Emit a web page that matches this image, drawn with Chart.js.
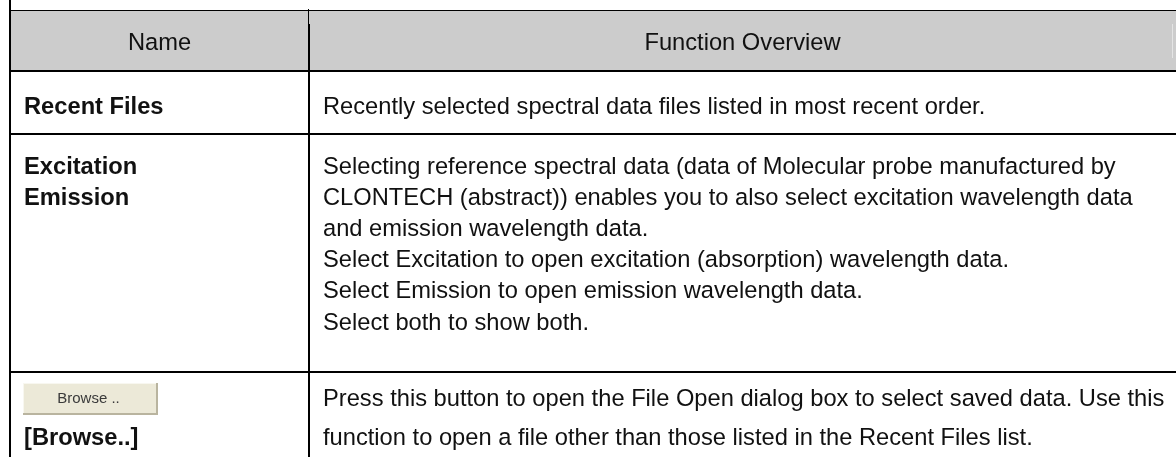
<!DOCTYPE html>
<html>
<head>
<meta charset="utf-8">
<script src="https://cdn.jsdelivr.net/npm/chart.js@4.4.1/dist/chart.umd.min.js"></script>
<style>
  html, body { margin: 0; padding: 0; background: #fff; }
  #wrap { width: 1176px; height: 457px; }
</style>
</head>
<body>
<div id="wrap"><canvas id="tabela"></canvas></div>
<script>
//  cabecalho
const headers = ["Name", "Function Overview"];

//  coluna Name (uma lista de linhas por linha da tabela)
const names = [
  ["Recent Files"],
  ["Excitation", "Emission"],
  ["", "[Browse..]"]
];

const buttonLabel = "Browse ..";

//  coluna Function Overview
const descriptions = [
  ["Recently selected spectral data files listed in most recent order."],
  [
    "Selecting reference spectral data (data of Molecular probe manufactured by",
    "CLONTECH (abstract)) enables you to also select excitation wavelength data",
    "and emission wavelength data.",
    "Select Excitation to open excitation (absorption) wavelength data.",
    "Select Emission to open emission wavelength data.",
    "Select both to show both."
  ],
  [
    "Press this button to open the File Open dialog box to select saved data. Use this",
    "function to open a file other than those listed in the Recent Files list."
  ]
];

//  layout (unidades da escala = px da pagina)
const layout = {
  left: 10,
  top: 10,
  divider: 309,
  right: 1176,
  headerBottom: 71,
  rowBottoms: [134, 372, 520],
  firstLine: [107, 167, 399],
  lineGap: [31, 31.2, 39],
  nameX: 24,
  descX: 323
};

const FONT = '"Liberation Sans", Arial, sans-serif';
const SIZE = 23.7;

//  plugin que desenha a tabela usando as escalas do chart
const tabelaPlugin = {
  id: "tabela",
  afterDraw(chart) {
    const ctx = chart.ctx;
    const sx = chart.scales.x;
    const sy = chart.scales.y;
    const X = v => sx.getPixelForValue(v);
    const Y = v => sy.getPixelForValue(v);

    ctx.save();

    // fundo do cabecalho
    ctx.fillStyle = "#cccccc";
    ctx.fillRect(X(layout.left), Y(layout.top), X(layout.right) - X(layout.left), Y(layout.headerBottom) - Y(layout.top));

    // linha clara na direita do cabecalho
    ctx.fillStyle = "#e4e4e4";
    ctx.fillRect(X(1172), Y(24), 1, Y(58) - Y(24));

    // bordas
    ctx.fillStyle = "#000";
    ctx.fillRect(X(layout.left), Y(layout.top), X(layout.right) - X(layout.left), 1);
    ctx.fillRect(X(layout.left) - 1, Y(0), 2, Y(457) - Y(0));
    ctx.fillRect(X(layout.divider) - 1, Y(layout.top) - 1, 1, Y(24) - Y(layout.top) + 1);
    ctx.fillRect(X(layout.divider) - 1, Y(24), 2, Y(457) - Y(24));
    ctx.fillRect(X(layout.left), Y(layout.headerBottom) - 1, X(layout.right) - X(layout.left), 2);
    layout.rowBottoms.forEach(b => {
      ctx.fillRect(X(layout.left), Y(b) - 1, X(layout.right) - X(layout.left), 2);
    });

    // textos do cabecalho
    ctx.fillStyle = "#111";
    ctx.textBaseline = "middle";
    ctx.textAlign = "center";
    ctx.font = `${SIZE}px ${FONT}`;
    const hy = Y(43);
    ctx.fillText(headers[0], (X(layout.left) + X(layout.divider)) / 2, hy);
    ctx.fillText(headers[1], (X(layout.divider) + X(layout.right)) / 2, hy);

    // linhas da tabela
    ctx.textAlign = "left";
    names.forEach((linhas, i) => {
      ctx.font = `bold ${SIZE}px ${FONT}`;
      linhas.forEach((t, j) => {
        if (t) ctx.fillText(t, X(layout.nameX), Y(layout.firstLine[i] + j * layout.lineGap[i]));
      });
      ctx.font = `${SIZE}px ${FONT}`;
      descriptions[i].forEach((t, j) => {
        ctx.fillText(t, X(layout.descX), Y(layout.firstLine[i] + j * layout.lineGap[i]));
      });
    });

    // botao Browse
    const bx = X(23), by = Y(383), bw = X(158) - X(23), bh = Y(415) - Y(383);
    ctx.fillStyle = "#ece9d8";
    ctx.fillRect(bx, by, bw, bh);
    ctx.fillStyle = "#f8f7f0";
    ctx.fillRect(bx, by, bw, 1);
    ctx.fillRect(bx, by, 1, bh);
    ctx.fillStyle = "#b9b49f";
    ctx.fillRect(bx, by + bh - 2, bw, 2);
    ctx.fillRect(bx + bw - 2, by, 2, bh);
    ctx.fillStyle = "#3a3a3a";
    ctx.textAlign = "center";
    ctx.font = `15px ${FONT}`;
    ctx.fillText(buttonLabel, bx + bw / 2 - 2, by + bh / 2);

    ctx.restore();
  }
};

new Chart(document.getElementById("tabela"), {
  type: "scatter",
  data: { datasets: [{ data: [] }] },
  options: {
    responsive: true,
    maintainAspectRatio: false,
    animation: false,
    layout: { padding: 0 },
    plugins: { legend: { display: false }, tooltip: { enabled: false } },
    scales: {
      x: { type: "linear", min: 0, max: 1176, display: false },
      y: { type: "linear", min: 0, max: 457, reverse: true, display: false }
    }
  },
  plugins: [tabelaPlugin]
});
</script>
</body>
</html>
